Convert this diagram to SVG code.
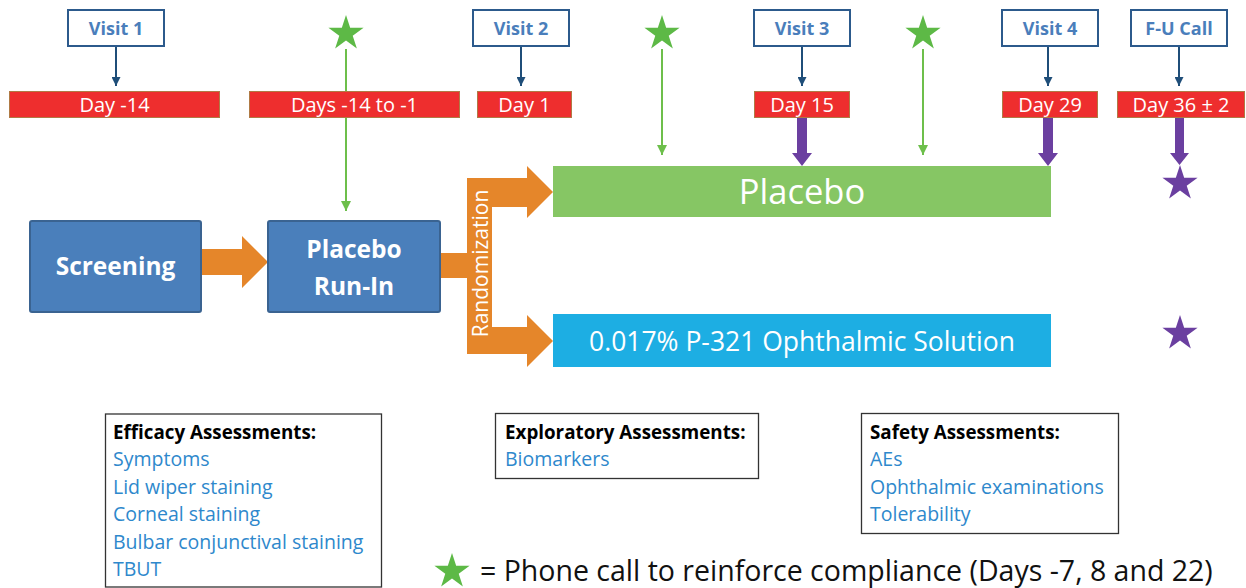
<svg xmlns="http://www.w3.org/2000/svg" xmlns:xlink="http://www.w3.org/1999/xlink" width="1246" height="588" viewBox="0 0 1246 588">
<style>
text{font-family:"Open Sans","Noto Sans","Liberation Sans",sans-serif}
.visit{fill:#fff;stroke:#2c5a8c;stroke-width:2}
.vt{fill:#4a7ebb;font-weight:bold;font-size:18px;text-anchor:middle}
.day{fill:#ee2e2e;stroke:#b07a45;stroke-width:1}
.dt{fill:#fff;font-size:20px;text-anchor:middle}
.blue{fill:#4a7fbb;stroke:#3a6391;stroke-width:2}
.bt{fill:#fff;font-weight:bold;font-size:24.5px;text-anchor:middle}
.orange{fill:#e5862a}
.dark{stroke:#1f4e79;stroke-width:2;fill:none}
.green{stroke:#6dbf4b;stroke-width:2;fill:none}
.purple{fill:#6b3fa0}
.abox{fill:#fff;stroke:#333;stroke-width:1.3}
.ah{fill:#000;font-weight:bold;font-size:18.8px}
.ai{fill:#2e88cc;font-size:19.5px}
</style>
<defs>
<path id="star" d="M0,-18.5 L4.16,-5.72 L17.6,-5.72 L6.72,2.18 L10.87,14.97 L0,7.07 L-10.87,14.97 L-6.72,2.18 L-17.6,-5.72 L-4.16,-5.72 Z"/>
<marker id="ad" viewBox="0 0 10 10" refX="10" refY="5" markerWidth="4.5" markerHeight="4.5" orient="auto" markerUnits="strokeWidth"><path d="M0,0 L10,5 L0,10 Z" fill="#1f4e79"/></marker>
<marker id="ag" viewBox="0 0 10 10" refX="10" refY="5" markerWidth="5" markerHeight="5" orient="auto" markerUnits="strokeWidth"><path d="M0,0 L10,5 L0,10 Z" fill="#6dbf4b"/></marker>
</defs>

<g id="connectors">
<line class="dark" x1="116" y1="46" x2="116" y2="86" marker-end="url(#ad)"/>
<line class="dark" x1="521" y1="46" x2="521" y2="86" marker-end="url(#ad)"/>
<line class="dark" x1="802" y1="46" x2="802" y2="86" marker-end="url(#ad)"/>
<line class="dark" x1="1048" y1="46" x2="1048" y2="86" marker-end="url(#ad)"/>
<line class="dark" x1="1179" y1="46" x2="1179" y2="86" marker-end="url(#ad)"/>
<line class="green" x1="346" y1="49" x2="346" y2="211" marker-end="url(#ag)"/>
<line class="green" x1="662" y1="49" x2="662" y2="155" marker-end="url(#ag)"/>
<line class="green" x1="923" y1="49" x2="923" y2="155" marker-end="url(#ag)"/>
<path class="purple" d="M797,118 L807,118 L807,153 L812,153 L802,166 L792,153 L797,153 Z"/>
<path class="purple" d="M1043,118 L1053,118 L1053,153 L1058,153 L1048,166 L1038,153 L1043,153 Z"/>
<path class="purple" d="M1175,118 L1184,118 L1184,153 L1189,153 L1179.5,165 L1170,153 L1175,153 Z"/>
<path class="orange" d="M201,249 L242,249 L242,236 L268,262 L242,288 L242,275 L201,275 Z"/>
<path class="orange" d="M440,253 L467,253 L467,178 L527,178 L527,166 L553,192 L527,218 L527,207 L492,207 L492,327 L527,327 L527,315 L553,341 L527,367 L527,354 L467,354 L467,278 L440,278 Z"/>
<text transform="translate(488,263.5) rotate(-90)" text-anchor="middle" fill="#fff" font-size="21px">Randomization</text>
</g>

<g id="visit1"><rect class="visit" x="68" y="10" width="96" height="36"/><text class="vt" x="116" y="34.5">Visit 1</text></g>
<g id="visit2"><rect class="visit" x="473" y="10" width="96" height="36"/><text class="vt" x="521" y="34.5">Visit 2</text></g>
<g id="visit3"><rect class="visit" x="754" y="10" width="96" height="36"/><text class="vt" x="802" y="34.5">Visit 3</text></g>
<g id="visit4"><rect class="visit" x="1002" y="10" width="96" height="36"/><text class="vt" x="1050" y="34.5">Visit 4</text></g>
<g id="fucall"><rect class="visit" x="1131" y="10" width="96" height="36"/><text class="vt" x="1179" y="34.5">F-U Call</text></g>

<g id="day-14"><rect class="day" x="9.5" y="91.5" width="210" height="26"/><text class="dt" x="114.5" y="111.5">Day -14</text></g>
<g id="days-14to-1"><rect class="day" x="249.5" y="91.5" width="210" height="26"/><text class="dt" x="354.5" y="111.5">Days -14 to -1</text></g>
<g id="day1"><rect class="day" x="477.5" y="91.5" width="94" height="26"/><text class="dt" x="524.5" y="111.5">Day 1</text></g>
<g id="day15"><rect class="day" x="754.5" y="91.5" width="95" height="26"/><text class="dt" x="802" y="111.5">Day 15</text></g>
<g id="day29"><rect class="day" x="1002.5" y="91.5" width="95" height="26"/><text class="dt" x="1050" y="111.5">Day 29</text></g>
<g id="day36"><rect class="day" x="1117.5" y="91.5" width="127" height="26"/><text class="dt" x="1181" y="111.5">Day 36 ± 2</text></g>

<g id="stars">
<use xlink:href="#star" href="#star" x="346" y="33.5" fill="#5db946"/>
<use xlink:href="#star" href="#star" x="662" y="33.5" fill="#5db946"/>
<use xlink:href="#star" href="#star" x="923" y="33.5" fill="#5db946"/>
<use xlink:href="#star" href="#star" x="1180" y="183.5" fill="#6b3fa0"/>
<use xlink:href="#star" href="#star" x="1180" y="333.5" fill="#6b3fa0"/>
</g>

<g id="screening"><rect class="blue" x="30" y="221" width="171" height="91" rx="2"/><text class="bt" x="115.5" y="275">Screening</text></g>
<g id="runin"><rect class="blue" x="268" y="221" width="172" height="91" rx="2"/><text class="bt" x="354" y="257.5">Placebo</text><text class="bt" x="354" y="294.5">Run-In</text></g>

<g id="placebo"><rect x="553" y="166" width="498" height="51" fill="#86c664"/><text x="802" y="204" fill="#fff" font-size="34.5px" text-anchor="middle">Placebo</text></g>
<g id="p321"><rect x="553" y="314" width="498" height="53" fill="#1daee3"/><text x="802" y="351" fill="#fff" font-size="26.5px" text-anchor="middle">0.017% P-321 Ophthalmic Solution</text></g>

<g id="efficacy"><rect class="abox" x="105.5" y="414" width="276" height="173"/>
<text class="ah" x="113" y="439">Efficacy Assessments:</text>
<text class="ai" x="113" y="466">Symptoms</text>
<text class="ai" x="113" y="493.5">Lid wiper staining</text>
<text class="ai" x="113" y="521">Corneal staining</text>
<text class="ai" x="113" y="548.5">Bulbar conjunctival staining</text>
<text class="ai" x="113" y="576">TBUT</text></g>

<g id="exploratory"><rect class="abox" x="495.5" y="413.5" width="263" height="65"/>
<text class="ah" x="505" y="439">Exploratory Assessments:</text>
<text class="ai" x="505" y="466">Biomarkers</text></g>

<g id="safety"><rect class="abox" x="861.5" y="413.5" width="257" height="120"/>
<text class="ah" x="870" y="439">Safety Assessments:</text>
<text class="ai" x="870" y="466">AEs</text>
<text class="ai" x="870" y="493.5">Ophthalmic examinations</text>
<text class="ai" x="870" y="521">Tolerability</text></g>

<g id="legend">
<use xlink:href="#star" href="#star" x="452" y="571.5" fill="#5db946"/>
<text x="480" y="581" fill="#111" font-size="28.5px">= Phone call to reinforce compliance (Days -7, 8 and 22)</text>
</g>
</svg>
